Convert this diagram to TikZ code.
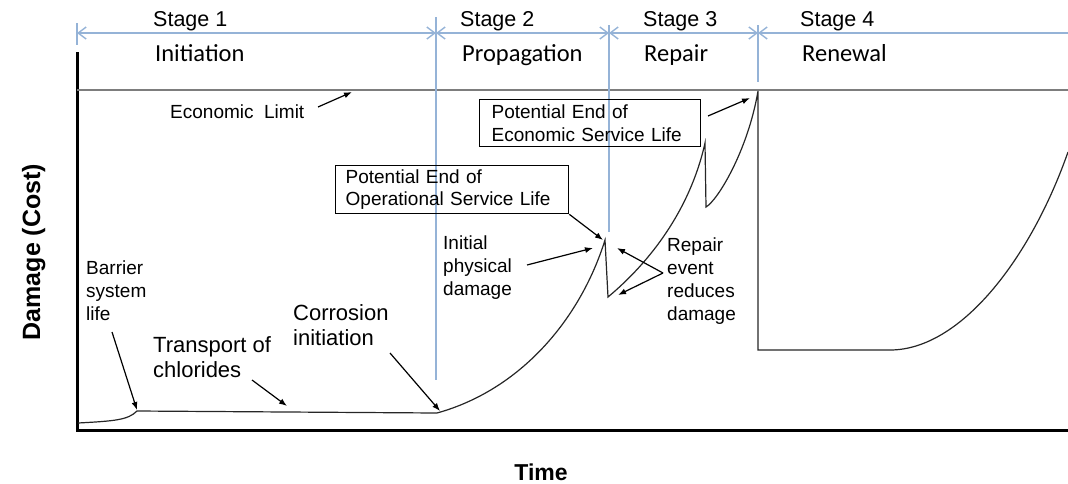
\documentclass[tikz,border=0pt]{standalone}
\usepackage{fontspec}
\setmainfont{Liberation Sans}
\newfontfamily\calfont{Carlito}
\usetikzlibrary{arrows.meta}
\definecolor{dimblue}{RGB}{149,179,215}
\definecolor{limgray}{RGB}{125,125,125}
\begin{document}
\begin{tikzpicture}[x=1pt,y=-1pt,
  dimline/.style={draw=dimblue,line width=1.4pt},
  dimarrow/.style={dimblue,line width=1.4pt,{Straight Barb[length=8pt,width=12pt]}-{Straight Barb[length=8pt,width=12pt]}},
  stagetext/.style={anchor=base west,inner sep=0pt,font=\fontsize{21.5}{24}\selectfont},
  phasetext/.style={anchor=base west,inner sep=0pt,font=\calfont\fontsize{24.5}{27}\selectfont},
  smalltext/.style={anchor=base west,inner sep=0pt,align=left,font=\fontsize{19}{23}\selectfont},
  bigtext/.style={anchor=base west,inner sep=0pt,align=left,font=\fontsize{22}{24.5}\selectfont},
  boxtext/.style={draw,line width=1.3pt,anchor=north west,align=left,inner ysep=3pt,font=\fontsize{19}{22.5}\selectfont},
  pointer/.style={line width=1.2pt,-{Latex[length=8pt,width=6pt]}},
  curve/.style={line width=1.2pt,draw=black!85}
]
\useasboundingbox (0,0) rectangle (1068,483);

% axes
\coordinate (o) at (77,430);
\coordinate (ytop) at (77,52);
\coordinate (xend) at (1068,430);
\draw[line width=3pt] (ytop) -- (o) -- (xend);

% economic limit
\coordinate (el0) at (77,90);
\coordinate (el1) at (1068,90);
\draw[draw=limgray,line width=2.4pt] (el0) -- (el1);

% stage boundaries
\coordinate (s0t) at (77,23);  \coordinate (s0b) at (77,45);
\coordinate (s1t) at (436,17); \coordinate (s1b) at (436,380);
\coordinate (s2t) at (609,25); \coordinate (s2b) at (609,232);
\coordinate (s3t) at (758,25); \coordinate (s3b) at (758,82);
\draw[dimline] (s0t) -- (s0b);
\draw[dimline] (s1t) -- (s1b);
\draw[dimline] (s2t) -- (s2b);
\draw[dimline] (s3t) -- (s3b);
\coordinate (d0) at (77,33);
\coordinate (d1) at (436,33);
\coordinate (d2) at (609,33);
\coordinate (d3) at (758,33);
\coordinate (d4) at (1068,33);
\draw[dimarrow] (d0) -- (d1);
\draw[dimarrow] (d1) -- (d2);
\draw[dimarrow] (d2) -- (d3);
\draw[dimblue,line width=1.4pt,{Straight Barb[length=8pt,width=12pt]}-] (d3) -- (d4);

% stage labels
\node[stagetext] (st1) at (153,26) {Stage 1};
\node[stagetext] (st2) at (460,26) {Stage 2};
\node[stagetext] (st3) at (643,26) {Stage 3};
\node[stagetext] (st4) at (800,26) {Stage 4};
\node[phasetext] (ph1) at (155,61) {Initiation};
\node[phasetext] (ph2) at (462,61) {Propagation};
\node[phasetext] (ph3) at (644,61) {Repair};
\node[phasetext] (ph4) at (802,61) {Renewal};

% damage curve
\coordinate (c0) at (78,423);
\coordinate (c1) at (137,411);
\coordinate (c2) at (437,413);
\coordinate (p1) at (605,240);
\coordinate (r1) at (608,297);
\coordinate (p2) at (705,143);
\coordinate (r2) at (706,207);
\coordinate (p3) at (758,91);
\coordinate (b1) at (758,350);
\coordinate (b2) at (890,350);
\coordinate (e1) at (1068,152);
\draw[curve] (c0) .. controls (115,421) and (128,420) .. (c1) -- (c2)
  .. controls (520,390) and (580,320) .. (p1) -- (r1)
  .. controls (650,262) and (690,210) .. (p2) -- (r2)
  .. controls (718,200) and (748,150) .. (p3) -- (b1) -- (b2)
  .. controls (960,350) and (1030,260) .. (e1);

% axis labels
\node[inner sep=0pt,anchor=base,rotate=90,font=\bfseries\fontsize{25}{28}\selectfont] (ylab) at (40,252) {Damage (Cost)};
\node[inner sep=0pt,anchor=base,font=\bfseries\fontsize{23}{26}\selectfont] (xlab) at (541,480) {Time};

% labels
\node[smalltext] (ellab) at (170,118) {Economic\ \ Limit};
\coordinate (elt) at (318,107); \coordinate (elh) at (352,92);
\draw[pointer] (elt) -- (elh);

\node[boxtext,inner xsep=12pt,text width=197pt,minimum height=47pt] (box1) at (479,99) {Potential End of\\Economic Service Life};
\coordinate (b1t) at (708,116); \coordinate (b1h) at (750,98);
\draw[pointer] (b1t) -- (b1h);

\node[boxtext,inner xsep=10pt,text width=213pt,minimum height=48pt] (box2) at (335,165) {Potential End of\\Operational Service Life};
\coordinate (b2h) at (603,240);
\draw[pointer] (box2.south east) -- (b2h);

\node[smalltext] (initl) at (443,295) {Initial\\physical\\damage};
\coordinate (it) at (527,265); \coordinate (ih) at (593,248);
\draw[pointer] (it) -- (ih);

\node[smalltext] (repl) at (667,320) {Repair\\event\\reduces\\damage};
\coordinate (rt) at (663,273); \coordinate (rh1) at (617,248); \coordinate (rh2) at (618,295);
\draw[pointer] (rt) -- (rh1);
\draw[pointer] (rt) -- (rh2);

\node[smalltext] (barl) at (86,320) {Barrier\\system\\life};
\coordinate (bt) at (112,332); \coordinate (bh) at (137,410);
\draw[pointer] (bt) -- (bh);

\node[bigtext] (tranl) at (153,377) {Transport of\\chlorides};
\coordinate (tt) at (252,380); \coordinate (th) at (287,406);
\draw[pointer] (tt) -- (th);

\node[bigtext] (corl) at (293,345) {Corrosion\\initiation};
\coordinate (ct) at (390,353); \coordinate (ch) at (440,411);
\draw[pointer] (ct) -- (ch);
\end{tikzpicture}
\end{document}
